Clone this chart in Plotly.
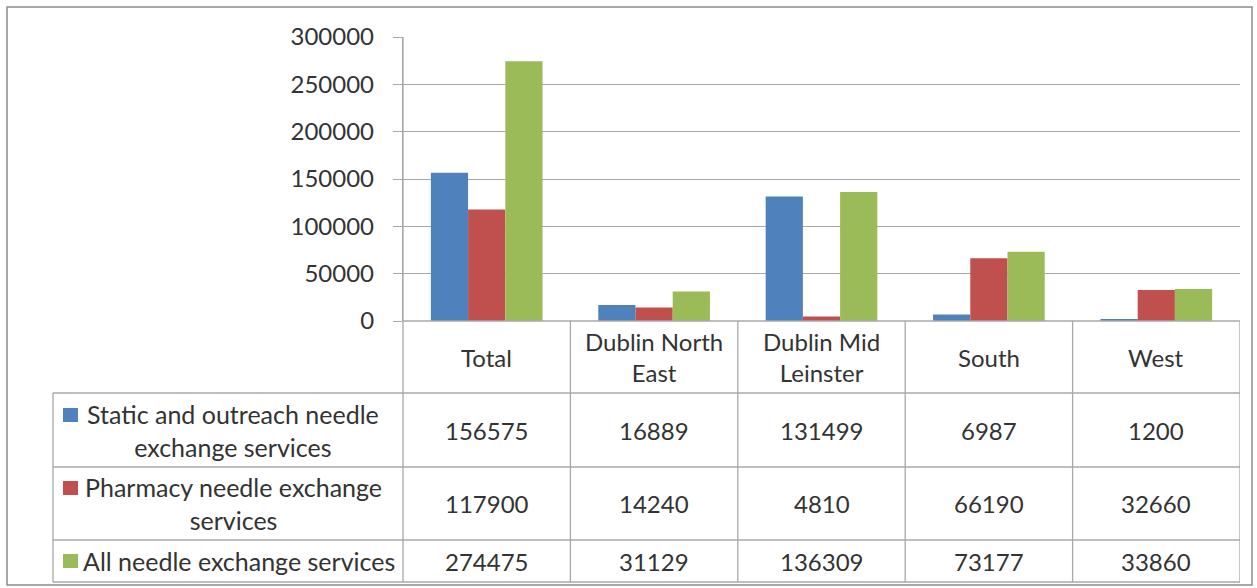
import plotly.graph_objects as go

categories = ["Total", "Dublin North East", "Dublin Mid Leinster", "South", "West"]
header_labels = ["Total", "Dublin North<br>East", "Dublin Mid<br>Leinster", "South", "West"]
series_names = ["Static and outreach needle exchange services",
                "Pharmacy needle exchange services",
                "All needle exchange services"]
row_labels = ["Static and outreach needle<br>exchange services",
              "Pharmacy needle exchange<br>services",
              "All needle exchange services"]
static_vals = [156575, 16889, 131499, 6987, 1200]
pharmacy_vals = [117900, 14240, 4810, 66190, 32660]
all_vals = [274475, 31129, 136309, 73177, 33860]
colors = ["#4F81BD", "#C0504D", "#9BBB59"]
y_ticks = [0, 50000, 100000, 150000, 200000, 250000, 300000]

W, H = 1257, 588
L, R, T, B = 403, 1240, 37, 321  # plot area pixels
FONT = "Lato"
FS = 24
TXT = "#333333"
GRID = "#A8A8A8"

def px(xp):
    return (xp - L) / (R - L)

def py(yp):
    return (B - yp) / (B - T)

fig = go.Figure()
for name, vals, c in zip(series_names, [static_vals, pharmacy_vals, all_vals], colors):
    fig.add_trace(go.Bar(x=categories, y=vals, name=name, marker=dict(color=c, line=dict(width=0)),
                         showlegend=False))

shapes = []
line = dict(color=GRID, width=1.3)
# outer chart border
shapes.append(dict(type="rect", xref="paper", yref="paper", x0=px(7), x1=px(1252), y0=py(7), y1=py(585),
                   line=dict(color="#8C8C8C", width=1.5), layer="below"))
# table horizontal lines
for yy in [393, 467, 540, 582]:
    shapes.append(dict(type="line", xref="paper", yref="paper", x0=px(53), x1=px(1240), y0=py(yy), y1=py(yy), line=line))
shapes.append(dict(type="line", xref="paper", yref="paper", x0=0, x1=1, y0=0, y1=0, line=line))
# left border of table and y-axis extension
shapes.append(dict(type="line", xref="paper", yref="paper", x0=px(53), x1=px(53), y0=py(393), y1=py(582), line=line))
shapes.append(dict(type="line", xref="paper", yref="paper", x0=0, x1=0, y0=py(582), y1=1, line=line))
# category dividers through the table
for i in range(len(categories)):
    xb = i + 0.5
    shapes.append(dict(type="line", xref="x", yref="paper", x0=xb, x1=xb, y0=py(582), y1=0, line=line))

annotations = []
font = dict(family=FONT, size=FS, color=TXT)
label_font = dict(family=FONT, size=25, color=TXT)
# header row
for cat, lab in zip(categories, header_labels):
    annotations.append(dict(xref="x", yref="paper", x=cat, y=py(357), text=lab, showarrow=False,
                            font=font, align="center", xanchor="center", yanchor="middle"))
row_centers = [430, 503, 561]
label_x = [233, 233, 239]
for r, (vals, lab, c) in enumerate(zip([static_vals, pharmacy_vals, all_vals], row_labels, colors)):
    yc = row_centers[r]
    for cat, v in zip(categories, vals):
        annotations.append(dict(xref="x", yref="paper", x=cat, y=py(yc), text=str(v), showarrow=False,
                                font=font, xanchor="center", yanchor="middle"))
    annotations.append(dict(xref="paper", yref="paper", x=px(label_x[r]), y=py(yc), text=lab, showarrow=False,
                            font=label_font, align="center", xanchor="center", yanchor="middle"))
    ky = yc - 15 if "<br>" in lab else yc
    shapes.append(dict(type="rect", xref="paper", yref="paper", x0=px(63), x1=px(78), y0=py(ky - 7), y1=py(ky + 7),
                       fillcolor=c, line=dict(width=0)))

fig.update_layout(
    width=W, height=H,
    margin=dict(l=L, r=W - R, t=T, b=H - B, pad=0),
    paper_bgcolor="white", plot_bgcolor="white",
    barmode="group", bargap=0.333, bargroupgap=0,
    font=dict(family=FONT, size=FS, color=TXT),
    xaxis=dict(showticklabels=False, showgrid=False, zeroline=False, ticks="", showline=False,
               range=[-0.5, 4.5]),
    yaxis=dict(range=[0, 300000], tickvals=y_ticks, ticktext=[str(v) for v in y_ticks],
               showgrid=True, gridcolor=GRID, gridwidth=1.3, zeroline=False,
               showline=True, linecolor=GRID, linewidth=1.3,
               ticks="outside", ticklen=9, tickcolor=GRID, tickwidth=1.3,
               ticklabelstandoff=14, tickfont=dict(family=FONT, size=FS, color=TXT)),
    shapes=shapes, annotations=annotations,
)

fig.write_html("out.html", config={"displayModeBar": False},
               post_script="document.body.style.margin='0';document.body.style.overflow='hidden';")
